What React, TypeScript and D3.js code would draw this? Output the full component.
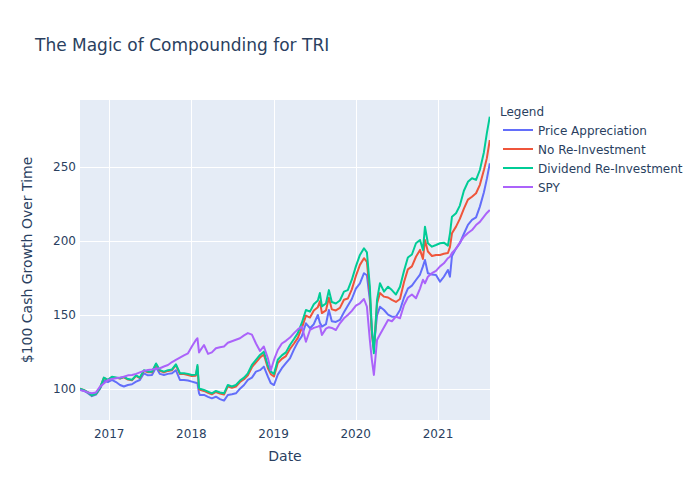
import React, { useEffect, useRef } from 'react'
import * as d3 from 'd3'

// sample dates and the four growth series
const dates = [
  '2016-08-24','2016-09-11','2016-09-28','2016-10-16','2016-11-03','2016-11-21','2016-12-08','2016-12-26',
  '2017-01-13','2017-01-31','2017-02-18','2017-03-07','2017-03-25','2017-04-12','2017-04-30','2017-05-17','2017-06-04','2017-06-22',
  '2017-07-10','2017-07-28','2017-08-14','2017-09-01','2017-09-19','2017-10-07','2017-10-24','2017-11-11','2017-11-29','2017-12-17',
  '2018-01-03','2018-01-21','2018-01-28','2018-02-04','2018-02-08','2018-02-26','2018-03-16','2018-04-02','2018-04-20','2018-05-08',
  '2018-05-26','2018-06-12','2018-06-30','2018-07-18','2018-08-05','2018-08-23','2018-09-09','2018-09-27','2018-10-15','2018-11-02',
  '2018-11-19','2018-12-07','2018-12-20',
  '2019-01-03','2019-01-20','2019-02-07','2019-02-25','2019-03-15','2019-04-02','2019-04-19','2019-05-07','2019-05-25','2019-06-12',
  '2019-06-29','2019-07-17','2019-07-26','2019-08-04','2019-08-22','2019-09-04','2019-09-17','2019-10-05','2019-10-23','2019-11-10',
  '2019-11-27','2019-12-15',
  '2020-01-02','2020-01-20','2020-02-07','2020-02-20','2020-03-04','2020-03-13','2020-03-22','2020-04-05','2020-04-18','2020-05-06',
  '2020-05-24','2020-06-10','2020-06-28','2020-07-16','2020-08-03','2020-08-20','2020-09-07','2020-09-25','2020-10-13','2020-10-26',
  '2020-11-04','2020-11-17','2020-12-05','2020-12-23',
  '2021-01-10','2021-01-27','2021-02-14','2021-02-23','2021-03-04','2021-03-22','2021-04-08','2021-04-26','2021-05-14','2021-06-01',
  '2021-06-19','2021-07-06','2021-07-24','2021-08-06','2021-08-19'
]

const priceAppreciation = [
  100, 99, 97.5, 95.5, 96.5, 100.5, 106, 105,
  106.5, 105, 103, 102, 103, 103.5, 105.3, 106.4, 110.9, 109.5, 109.8, 115, 110.5, 109.8, 110.5, 110.9, 113, 106.4, 106.4, 106,
  105.3, 104.5, 104.2, 97.4, 96.3, 96.3, 95, 94, 95.1, 93.5, 92.5, 96.3, 96.8, 97.4, 100.5, 103, 106.4, 108, 112, 113, 115.4, 108.6, 104.2,
  103, 110, 114.3, 117.7, 121, 127, 132, 136, 144.6, 141.3, 144, 150.2, 145, 142.4, 144, 153.6, 146, 145.5, 146.9, 152, 156.5, 161,
  168, 171.6, 178.4, 177, 160.4, 140, 128.9, 150, 155.8, 153.6, 150.5, 149.1, 149.1, 153.6, 162, 168, 170, 173.8, 177.5, 183, 187.3, 178.4, 177.5, 177.2,
  172.7, 176, 180.6, 176, 190, 195, 198.6, 205, 211, 214.3, 216, 223.3, 233, 242, 252.5
]

const noReinvestment = [
  100.5, 99.5, 98, 96, 97, 101, 107.8, 106.3,
  108.3, 107.8, 107.3, 108.2, 106.7, 106.2, 109.2, 107.7, 112.6, 111.6, 111.6, 117, 112.5, 111.5, 112.5, 113, 116.4, 110.4, 110.4, 109.8,
  109.1, 109.3, 115.3, 100.2, 99.8, 99, 97.8, 96.7, 98.3, 97.2, 96.6, 102.1, 101.1, 102, 105, 106.9, 109.6, 115, 118.3, 121.5, 123.6, 114.3, 110.3,
  108.7, 117.8, 120.6, 122.5, 127.3, 131, 134.8, 141.5, 149.8, 148.5, 153.2, 155.5, 159.5, 151.5, 153.3, 161.8, 154, 153.3, 155, 160.5, 161.3, 167.5,
  176.5, 184, 188.5, 186, 164.9, 137, 126.6, 158, 165, 162.6, 162, 160.4, 159, 161, 172.5, 181, 183, 189.5, 194.1, 188, 200.8, 193, 190, 190.7,
  190.7, 191.5, 192, 196, 205.3, 209.8, 215, 222, 228, 230, 232.3, 238, 248, 256, 268.2
]

const dividendReinvestment = [
  100.5, 99.5, 98, 96, 97, 101, 108, 106.5,
  108.5, 108, 107.5, 108.5, 107, 106.5, 109.5, 108, 113, 112, 112, 117.5, 113, 112, 113, 113.5, 117, 111, 111, 110.5,
  109.8, 110, 116.5, 101, 100.5, 99.7, 98.5, 97.4, 99, 98, 97.4, 103, 102, 103, 106, 108, 110.9, 116.5, 119.9, 123.3, 125.5, 116, 112,
  110.5, 120, 123, 125, 130, 134, 138, 145, 153.6, 152.5, 157.5, 160, 165, 156, 158, 167, 159, 158, 160, 166, 167, 174,
  183, 190.7, 195.2, 192.5, 169.3, 140, 124.4, 160.4, 171.6, 166, 169.3, 167, 164, 169.3, 180, 189, 191, 198.6, 200.8, 194, 209.8, 198.6, 196.3, 197.4,
  198.6, 199, 197, 205, 216.5, 218.8, 224, 234, 240, 242.4, 241.3, 248, 260, 272.8, 284
]

const spy = [
  99.7, 99, 98, 97.4, 98, 101.9, 104, 106.4,
  107, 107.5, 108, 108.6, 109.5, 109.8, 110.5, 111.5, 112.5, 113.1, 113.5, 114, 114.3, 115.5, 116.5, 118.5, 120, 121.5, 123, 124.4,
  128.9, 133.4, 134.5, 125, 126, 130, 124, 125, 127.8, 128.5, 129, 131.5, 132.5, 133.5, 134.5, 136.5, 138, 137, 131, 126, 129, 121, 113,
  119.9, 126.6, 131, 132.8, 135, 138, 140.5, 142.4, 132.2, 140.1, 141.5, 142.4, 143, 136.7, 141, 142, 141.5, 140.1, 144.6, 148, 150.2, 153,
  156.5, 158.1, 161, 155.8, 133.4, 120, 109.8, 133.4, 137, 142, 146.9, 146, 149.1, 148, 157, 162, 164, 161.5, 168, 174, 171.6, 176, 178.4, 180,
  183, 185.1, 188.5, 189.5, 192, 195, 199, 203, 205.5, 207.5, 210.9, 213, 216.5, 219, 221
]

const seriesNames = ['Price Appreciation', 'No Re-Investment', 'Dividend Re-Investment', 'SPY']
const seriesValues = [priceAppreciation, noReinvestment, dividendReinvestment, spy]
const colors = ['#636efa', '#EF553B', '#00cc96', '#ab63fa']
const yTicks = [100, 150, 200, 250]
const xTickYears = [2017, 2018, 2019, 2020, 2021]

export default function App() {
  const ref = useRef<SVGSVGElement | null>(null)

  useEffect(() => {
    if (!ref.current) return
    const svg = d3.select(ref.current)
    svg.selectAll('*').remove()
    const font = '"DejaVu Sans", "Open Sans", sans-serif'
    const ink = '#2a3f5f'
    const margin = { top: 100, left: 80, w: 410, h: 320 }

    const x = d3.scaleUtc()
      .domain([new Date(Date.UTC(2016, 7, 24)), new Date(Date.UTC(2021, 7, 20))])
      .range([margin.left, margin.left + margin.w])
    const y = d3.scaleLinear().domain([79.4, 295.2]).range([margin.top + margin.h, margin.top])

    svg.append('rect').attr('width', 700).attr('height', 500).attr('fill', '#fff')
    svg.append('rect').attr('x', margin.left).attr('y', margin.top)
      .attr('width', margin.w).attr('height', margin.h).attr('fill', '#E5ECF6')

    svg.append('defs').append('clipPath').attr('id', 'plotclip')
      .append('rect').attr('x', margin.left).attr('y', margin.top).attr('width', margin.w).attr('height', margin.h)

    // grid
    const grid = svg.append('g').attr('stroke', '#fff').attr('stroke-width', 1)
    xTickYears.forEach(yr => {
      const px = Math.round(x(new Date(Date.UTC(yr, 0, 1)))) + 0.5
      grid.append('line').attr('x1', px).attr('x2', px).attr('y1', margin.top).attr('y2', margin.top + margin.h)
    })
    yTicks.forEach(v => {
      const py = Math.round(y(v)) + 0.5
      grid.append('line').attr('x1', margin.left).attr('x2', margin.left + margin.w).attr('y1', py).attr('y2', py)
    })

    // lines
    const parsed = dates.map(d => d3.utcParse('%Y-%m-%d')(d) as Date)
    const line = d3.line<number>().x((_, i) => x(parsed[i])).y(d => y(d))
    const lines = svg.append('g').attr('clip-path', 'url(#plotclip)')
    seriesValues.forEach((vals, i) => {
      lines.append('path').attr('d', line(vals) || '').attr('fill', 'none')
        .attr('stroke', colors[i]).attr('stroke-width', 2).attr('stroke-linejoin', 'round')
    })

    // tick labels
    xTickYears.forEach(yr => {
      svg.append('text').text(String(yr)).attr('x', x(new Date(Date.UTC(yr, 0, 1)))).attr('y', 438)
        .attr('text-anchor', 'middle').attr('font-family', font).attr('font-size', 12).attr('fill', ink)
    })
    yTicks.forEach(v => {
      svg.append('text').text(String(v)).attr('x', 76).attr('y', y(v) + 4)
        .attr('text-anchor', 'end').attr('font-family', font).attr('font-size', 12).attr('fill', ink)
    })

    // titles
    svg.append('text').text('The Magic of Compounding for TRI').attr('x', 35).attr('y', 51)
      .attr('font-family', font).attr('font-size', 17).attr('fill', ink)
    svg.append('text').text('Date').attr('x', margin.left + margin.w / 2).attr('y', 461)
      .attr('text-anchor', 'middle').attr('font-family', font).attr('font-size', 14).attr('fill', ink)
    svg.append('text').text('$100 Cash Growth Over Time')
      .attr('transform', `translate(32,${margin.top + margin.h / 2}) rotate(-90)`)
      .attr('text-anchor', 'middle').attr('font-family', font).attr('font-size', 14).attr('fill', ink)

    // legend
    const legend = svg.append('g').attr('font-family', font).attr('font-size', 12).attr('fill', ink)
    legend.append('text').text('Legend').attr('x', 500).attr('y', 116)
    seriesNames.forEach((name, i) => {
      const ly = 130 + i * 19
      legend.append('line').attr('x1', 503).attr('x2', 533).attr('y1', ly).attr('y2', ly)
        .attr('stroke', colors[i]).attr('stroke-width', 2)
      legend.append('text').text(name).attr('x', 538).attr('y', ly + 4.5)
    })
  }, [])

  return (
    <svg ref={ref} width={700} height={500} style={{ position: 'absolute', left: 0, top: 0 }} />
  )
}
